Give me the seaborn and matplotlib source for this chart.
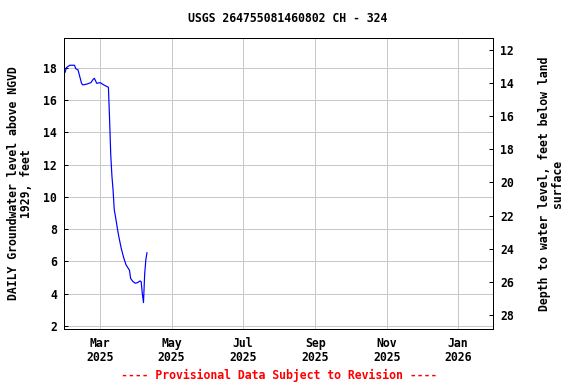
import matplotlib
matplotlib.use("Agg")
import matplotlib.pyplot as plt
import seaborn as sns
import pandas as pd

dates = ["2025-01-30", "2025-01-31", "2025-02-03", "2025-02-07", "2025-02-08", "2025-02-10",
         "2025-02-13", "2025-02-14", "2025-02-17", "2025-02-21", "2025-02-23", "2025-02-24",
         "2025-02-26", "2025-03-01", "2025-03-04", "2025-03-07", "2025-03-08", "2025-03-09",
         "2025-03-10", "2025-03-11", "2025-03-12", "2025-03-13", "2025-03-14", "2025-03-16",
         "2025-03-17", "2025-03-19", "2025-03-21", "2025-03-23", "2025-03-26", "2025-03-27",
         "2025-03-29", "2025-03-31", "2025-04-02", "2025-04-04", "2025-04-05", "2025-04-06",
         "2025-04-07", "2025-04-08", "2025-04-09", "2025-04-10"]
levels = [17.73, 18.02, 18.17, 18.17, 17.96, 17.88, 17.05, 16.95, 16.99, 17.09, 17.30, 17.36,
          17.05, 17.09, 16.95, 16.84, 16.80, 14.8, 12.6, 11.3, 10.4, 9.2, 8.8, 7.9,
          7.5, 6.8, 6.25, 5.8, 5.45, 4.95, 4.75, 4.65, 4.69, 4.79, 4.75, 4.0,
          3.45, 5.2, 6.1, 6.55]

left_ticks = [2, 4, 6, 8, 10, 12, 14, 16, 18]
right_ticks = [12, 14, 16, 18, 20, 22, 24, 26, 28]
x_ticks = ["2025-03-01", "2025-05-01", "2025-07-01", "2025-09-01", "2025-11-01", "2026-01-01"]
x_labels = ["Mar\n2025", "May\n2025", "Jul\n2025", "Sep\n2025", "Nov\n2025", "Jan\n2026"]

title = "USGS 264755081460802 CH - 324"
left_label = "DAILY Groundwater level above NGVD\n1929, feet"
right_label = "Depth to water level, feet below land\nsurface"
footer = "---- Provisional Data Subject to Revision ----"

sns.set_theme(style="white")
plt.rcParams['font.family'] = ['DejaVu Sans Mono']
plt.rcParams['font.weight'] = 'bold'
plt.rcParams['text.color'] = 'black'
plt.rcParams['axes.labelcolor'] = 'black'
plt.rcParams['xtick.color'] = 'black'
plt.rcParams['ytick.color'] = 'black'

FS = 11.5

df = pd.DataFrame({"date": pd.to_datetime(dates), "level": levels})

fig = plt.figure(figsize=(8, 384 / 72), dpi=72)
ax = fig.add_axes([64 / 576, 1 - 329 / 384, (493 - 64) / 576, (329 - 38) / 384])

sns.lineplot(data=df, x="date", y="level", ax=ax, color="blue", linewidth=1.2)

ax.set_xlim(pd.Timestamp("2025-01-29"), pd.Timestamp("2026-01-31"))
ax.set_ylim(1.81, 19.86)
ax.set_yticks(left_ticks)
ax.set_yticklabels([str(t) for t in left_ticks], fontsize=FS, fontweight='bold')
ax.set_xticks(pd.to_datetime(x_ticks))
ax.set_xticklabels(x_labels, fontsize=FS, fontweight='bold', linespacing=1.1)
ax.grid(True, color="#c8c8c8", linewidth=1)
ax.set_axisbelow(True)
ax.tick_params(axis='y', direction='in', length=4, width=1, color='black', pad=7)
ax.tick_params(axis='x', length=0, pad=8)
ax.set_xlabel("")
ax.set_ylabel(left_label, fontsize=FS, fontweight='bold', labelpad=10, linespacing=1.0)
for s in ax.spines.values():
    s.set_color("black")
    s.set_linewidth(1)

ax2 = ax.twinx()
ax2.set_ylim(28.85, 11.28)
ax2.set_yticks(right_ticks)
ax2.set_yticklabels([str(t) for t in right_ticks], fontsize=FS, fontweight='bold')
ax2.tick_params(axis='y', direction='in', length=4, width=1, color='black', pad=7)
ax2.set_ylabel(right_label, fontsize=FS, fontweight='bold', labelpad=24, rotation=90,
               linespacing=1.0)
for s in ax2.spines.values():
    s.set_color("black")
    s.set_linewidth(1)

fig.text(0.5, 1 - 19 / 384, title, ha='center', va='center', fontsize=FS, fontweight='bold')
fig.text(0.485, 1 - 375 / 384, footer, ha='center', va='center', fontsize=FS,
         fontweight='bold', color='red')

fig.savefig("out.png", dpi=72)
